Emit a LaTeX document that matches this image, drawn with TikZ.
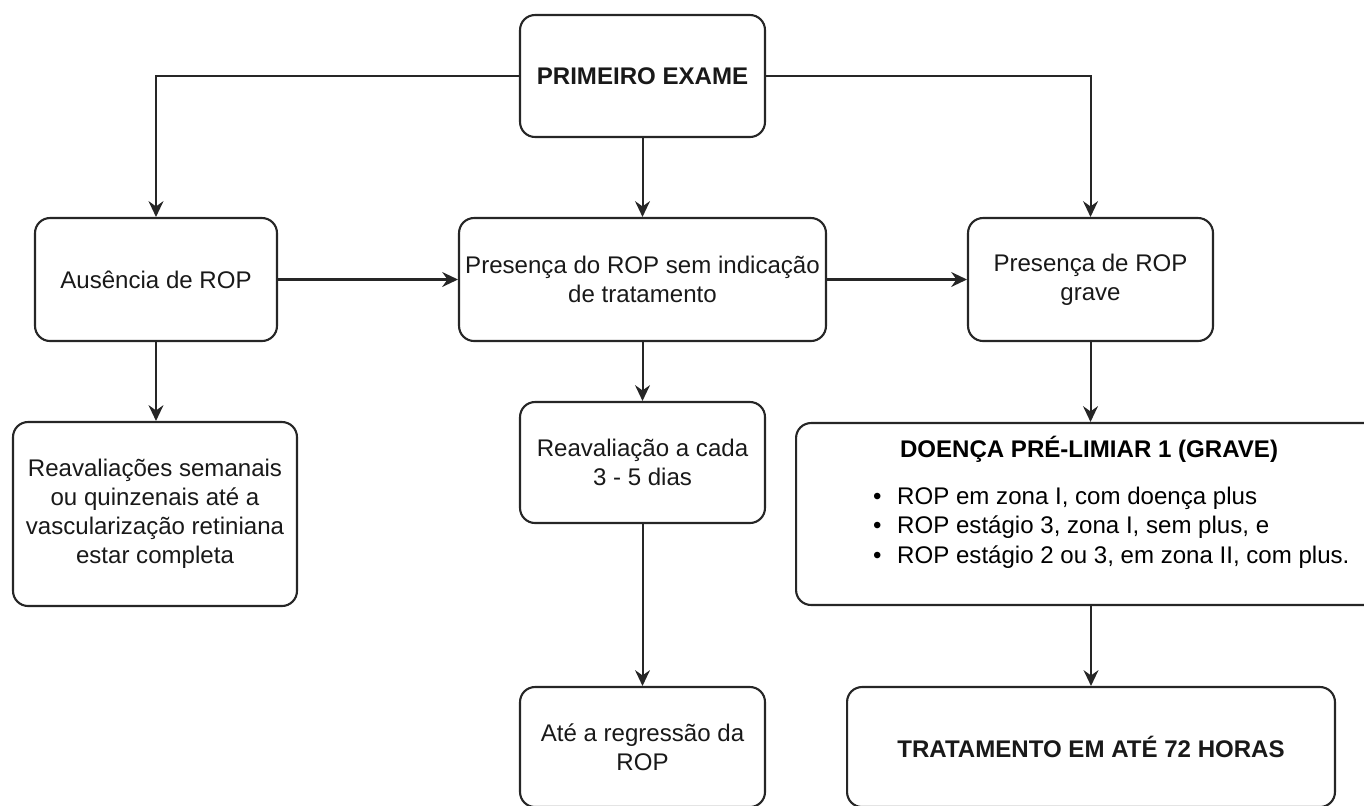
\documentclass[tikz,border=0pt]{standalone}
\usepackage{fontspec}
\setmainfont{Liberation Sans}
\usepackage{tikz}
\usetikzlibrary{positioning, calc}
\usetikzlibrary{arrows.meta}
\usetikzlibrary{shapes,arrows}

\begin{document}
\begin{tikzpicture}[x=0.02cm, y=-0.02cm, line width=1.15pt, draw=black!85]
	\fontsize{13.7}{16.5}\selectfont
	\def \rowoneht{76}
	\def \rowtwoht{279.5}
	\def \rowthreeht{514}
	\def \rowfourht{747}
	\tikzstyle{r-box}=[draw, line width=1.2pt, rounded corners=0.3cm, align=center, inner sep=2pt, text=black!90]
	\tikzstyle{r-arrow}=[-{Stealth[length=9pt, width=8.5pt, inset=3pt]}]
	\useasboundingbox (0,0) rectangle (1364,805);
	\clip (0,0) rectangle (1364,805);
	% first row
	\node[r-box, minimum width=4.9cm, minimum height=2.44cm] 	(exame)	at (642.5,\rowoneht)	{\textbf{PRIMEIRO EXAME}};
	% second row
	\node[r-box, minimum width=4.84cm, minimum height=2.46cm] 	(ausencia)	at (156,\rowtwoht)	{Ausência de ROP};
	\node[r-box, minimum width=7.34cm, minimum height=2.46cm] 	(presenca)	at (642.5,\rowtwoht)	{Presença do ROP sem indicação\\de tratamento};
	\node[r-box, minimum width=4.9cm, minimum height=2.46cm] 	(grave)	at (1090.5,\rowtwoht)	{Presença de ROP\\grave};
	% third row
	\node[r-box, minimum width=5.68cm, minimum height=3.68cm] 	(semanais)	at (155,\rowthreeht)	{Reavaliações semanais\\ou quinzenais até a\\vascularização retiniana\\estar completa};
	\node[r-box, minimum width=4.9cm, minimum height=2.42cm] 	(cada)	at (642.5,462.5)	{Reavaliação a cada\\3 - 5 dias};
	\node[r-box, minimum width=11.7cm, minimum height=3.64cm, anchor=west] 	(doenca)	at (795,\rowthreeht)	{};
	\node 	(titulo)	at (1089,449)	{\textbf{DOENÇA PRÉ-LIMIAR 1 (GRAVE)}};
	\node[anchor=west, inner sep=0pt] 	(lista)	at (872,528)	{\fontsize{13.7}{17}\selectfont\begin{tabular}{@{}l@{\hspace{9pt}}l@{}}
		\textbullet & ROP em zona I, com doença plus\\
		\textbullet & ROP estágio 3, zona I, sem plus, e\\
		\textbullet & ROP estágio 2 ou 3, em zona II, com plus.
	\end{tabular}};
	% fourth row
	\node[r-box, minimum width=4.9cm, minimum height=2.4cm] 	(regressao)	at (642.5,\rowfourht)	{Até a regressão da\\ROP};
	\node[r-box, minimum width=9.76cm, minimum height=2.4cm] 	(tratamento)	at (1091,\rowfourht)	{\textbf{TRATAMENTO EM ATÉ 72 HORAS}};
	% connectors
	\draw[r-arrow] (exame.west) -| (ausencia.north);
	\draw[r-arrow] (exame.south) -- (presenca.north);
	\draw[r-arrow] (exame.east) -| (grave.north);
	\draw[r-arrow] (ausencia.east) -- (presenca.west);
	\draw[r-arrow] (presenca.east) -- (grave.west);
	\draw[r-arrow] (ausencia.south) -- (ausencia.south |- semanais.north);
	\draw[r-arrow] (presenca.south) -- (cada.north);
	\draw[r-arrow] (grave.south) -- (grave.south |- doenca.north);
	\draw[r-arrow] (cada.south) -- (regressao.north);
	\draw[r-arrow] (tratamento.north |- doenca.south) -- (tratamento.north);
\end{tikzpicture}
\end{document}
